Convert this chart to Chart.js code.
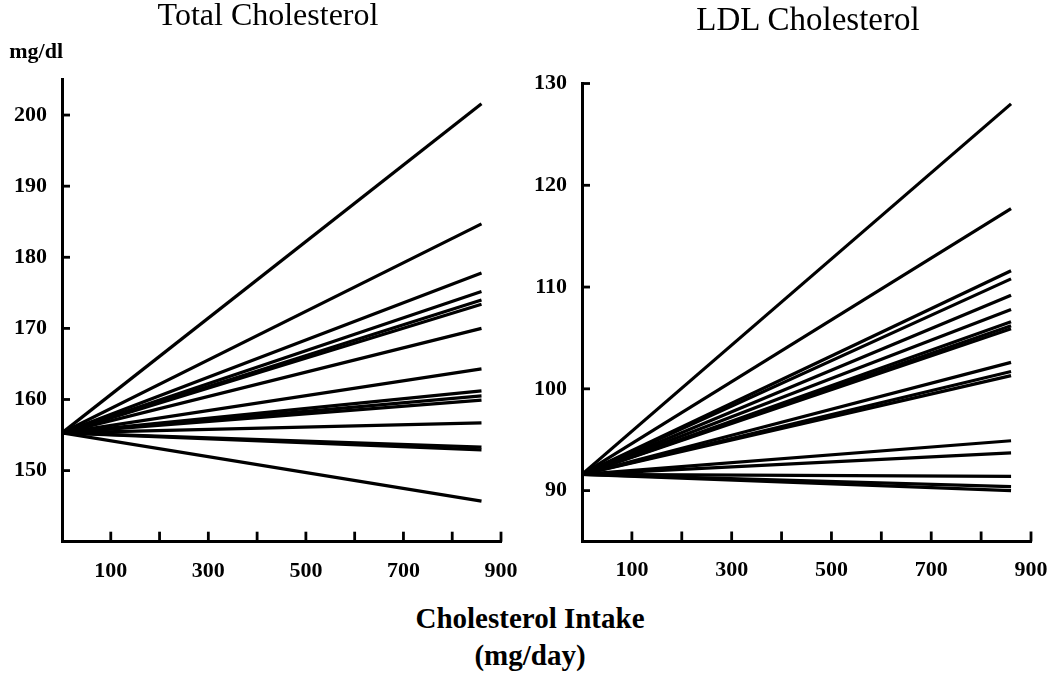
<!DOCTYPE html>
<html><head><meta charset="utf-8">
<script src="https://cdn.jsdelivr.net/npm/chart.js@4.4.1/dist/chart.umd.min.js"></script>
<style>
html,body{margin:0;padding:0;background:#fff;width:1050px;height:677px;overflow:hidden}
#wrap{position:relative;width:1050px;height:677px;background:#fff}
.c{position:absolute;top:0}
.t{position:absolute;font-family:"Liberation Serif","Times New Roman",serif;color:#000;white-space:nowrap;line-height:1}
</style></head><body>
<div id="wrap">
<canvas id="c1" class="c" width="525" height="600" style="left:0"></canvas>
<canvas id="c2" class="c" width="530" height="600" style="left:520px"></canvas>
<div class="t" style="left:268px;top:-2.5px;font-size:32px;transform:translateX(-50%)">Total Cholesterol</div>
<div class="t" style="left:808px;top:2.5px;font-size:33px;transform:translateX(-50%)">LDL Cholesterol</div>
<div class="t" style="left:63px;top:39.5px;font-size:22px;font-weight:bold;transform:translateX(-100%)">mg/dl</div>
<div class="t" style="left:530px;top:603.5px;font-size:29px;font-weight:bold;transform:translateX(-50%)">Cholesterol Intake</div>
<div class="t" style="left:530px;top:640.5px;font-size:29px;font-weight:bold;transform:translateX(-50%)">(mg/day)</div>
</div>
<script>
// ---- data ----
const intakeStart = 0;
const intakeEnd = 860;
const xTickLabels = [100, 300, 500, 700, 900];
const totalStart = 155.3;
const totalEnds = [201.6, 184.7, 177.8, 175.2, 174.0, 173.4, 170.0, 164.3, 161.2, 160.5, 159.9, 156.7, 153.3, 152.9, 145.7];
const totalTicks = [150, 160, 170, 180, 190, 200];
const ldlStart = 91.6;
const ldlEnds = [128.0, 117.7, 111.6, 110.8, 109.2, 107.8, 106.6, 106.2, 105.9, 102.6, 101.7, 101.3, 94.9, 93.7, 91.4, 90.4, 90.0];
const ldlTicks = [90, 100, 110, 120, 130];

const FONT = '"Liberation Serif","Times New Roman",serif';

const inwardTicks = {
  id: 'inwardTicks',
  afterDraw(chart, args, opts) {
    const {ctx, chartArea: a, scales: {x, y}} = chart;
    ctx.save();
    ctx.strokeStyle = '#000';
    ctx.lineWidth = 2.8;
    x.ticks.forEach(t => {
      if (t.value === x.min) return;
      const px = x.getPixelForValue(t.value);
      ctx.beginPath(); ctx.moveTo(px, a.bottom); ctx.lineTo(px, a.bottom - opts.xLen); ctx.stroke();
    });
    y.ticks.forEach(t => {
      const py = y.getPixelForValue(t.value);
      ctx.beginPath(); ctx.moveTo(a.left, py); ctx.lineTo(a.left + opts.yLen, py); ctx.stroke();
    });
    ctx.restore();
  }
};

function makeChart(id, start, ends, yMin, yMax, yTicks, pad) {
  const datasets = ends.map(e => ({
    data: [{x: intakeStart, y: start}, {x: intakeEnd, y: e}],
    borderColor: '#000',
    borderWidth: 3.2,
    pointRadius: 0,
    fill: false,
    tension: 0
  }));
  return new Chart(document.getElementById(id), {
    type: 'line',
    data: {datasets},
    options: {
      responsive: false,
      animation: false,
      devicePixelRatio: 1,
      layout: {padding: {top: pad.top, left: 0, right: pad.right, bottom: 0}},
      plugins: {legend: {display: false}, tooltip: {enabled: false}, title: {display: false},
        inwardTicks: {xLen: 10, yLen: 8}},
      scales: {
        x: {
          type: 'linear', min: 0, max: 900,
          grid: {display: false, drawTicks: false},
          border: {display: true, color: '#000', width: 3},
          afterBuildTicks: s => { s.ticks = []; for (let v = 0; v <= 900; v += 100) s.ticks.push({value: v}); },
          afterFit: s => { s.height = 600 - pad.top - pad.plotH; s.paddingLeft = 0; s.paddingRight = 0; },
          ticks: {
            autoSkip: false, maxRotation: 0, padding: 16, color: '#000',
            font: {family: FONT, size: 22, weight: 'bold'},
            callback: v => xTickLabels.includes(v) ? String(v) : ''
          }
        },
        y: {
          type: 'linear', min: yMin, max: yMax,
          grid: {display: false, drawTicks: false},
          border: {display: true, color: '#000', width: 3},
          afterBuildTicks: s => { s.ticks = yTicks.map(v => ({value: v})); },
          afterFit: s => { s.width = 62; s.paddingTop = 0; s.paddingBottom = 0; },
          ticks: {
            padding: 15, color: '#000',
            font: {family: FONT, size: 22, weight: 'bold'}
          }
        }
      }
    },
    plugins: [inwardTicks]
  });
}

makeChart('c1', totalStart, totalEnds, 140, 205, totalTicks,
  {top: 79.5, right: 24, plotH: 462.2});
makeChart('c2', ldlStart, ldlEnds, 85, 130, ldlTicks,
  {top: 83.5, right: 19, plotH: 458});
</script>
</body></html>
